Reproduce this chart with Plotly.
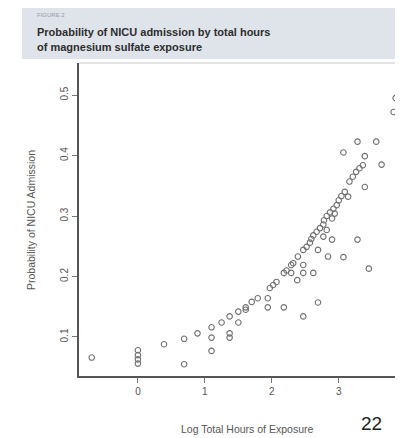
import plotly.graph_objects as go

# Data (log total hours, probability of NICU admission)
log_hours = [
    -0.69, 0.0, 0.0, 0.0, 0.0, 0.39, 0.69, 0.69, 0.89,
    1.10, 1.10, 1.10, 1.25, 1.37, 1.37, 1.37, 1.50, 1.50,
    1.61, 1.61, 1.70, 1.79, 1.94, 1.94, 1.97, 2.02, 2.07,
    2.18, 2.18, 2.22, 2.29, 2.29, 2.32, 2.38, 2.39,
    2.47, 2.47, 2.47, 2.47, 2.52, 2.57, 2.59, 2.62, 2.62,
    2.67, 2.69, 2.69, 2.72, 2.77, 2.77, 2.78, 2.82, 2.82,
    2.84, 2.87, 2.90, 2.90, 2.92, 2.94, 2.97, 3.00, 3.04,
    3.07, 3.07, 3.09, 3.14, 3.16, 3.21, 3.26, 3.28, 3.28,
    3.31, 3.36, 3.39, 3.39, 3.45, 3.56, 3.64, 3.82, 3.85,
]
prob_nicu = [
    0.066, 0.078, 0.070, 0.063, 0.056, 0.088, 0.097, 0.055, 0.106,
    0.116, 0.099, 0.077, 0.124, 0.134, 0.106, 0.099, 0.142, 0.124,
    0.149, 0.145, 0.158, 0.164, 0.164, 0.149, 0.181, 0.186, 0.191,
    0.206, 0.149, 0.210, 0.219, 0.206, 0.222, 0.194, 0.233,
    0.244, 0.219, 0.206, 0.134, 0.249, 0.256, 0.262, 0.268, 0.206,
    0.274, 0.244, 0.157, 0.280, 0.286, 0.266, 0.293, 0.300, 0.277,
    0.233, 0.306, 0.296, 0.261, 0.312, 0.304, 0.318, 0.326, 0.333,
    0.232, 0.405, 0.340, 0.332, 0.357, 0.365, 0.373, 0.423, 0.261,
    0.379, 0.384, 0.399, 0.348, 0.213, 0.423, 0.385, 0.472, 0.495,
]

x_ticks = [0, 1, 2, 3, 4]
y_ticks = [0.1, 0.2, 0.3, 0.4, 0.5]

# The page body adds an 8px offset; the figure is sized to fit the 403x438 window.
FIG_W, FIG_H = 395, 430
ML, MR, MT, MB = 71, 0, 55, 62
plot_w = FIG_W - ML - MR
plot_h = FIG_H - MT - MB


def px_x(px):
    # px in window coordinates -> paper coordinate
    return (px - 8 - ML) / plot_w


def px_y(py):
    return (FIG_H - MB - (py - 8)) / plot_h


fig = go.Figure()
fig.add_trace(go.Scatter(
    x=log_hours, y=prob_nicu, mode="markers",
    marker=dict(symbol="circle-open", size=5.5, color="#707070",
                line=dict(width=1.1, color="#707070")),
    showlegend=False, hoverinfo="skip", cliponaxis=False,
))

axis_font = dict(family="Liberation Sans, Arial, sans-serif", size=10, color="#555")

fig.update_layout(
    width=FIG_W, height=FIG_H,
    margin=dict(l=ML, r=MR, t=MT, b=MB),
    paper_bgcolor="white", plot_bgcolor="white",
    xaxis=dict(
        range=[-0.88, 3.96], tickvals=x_ticks, ticktext=[str(v) for v in x_ticks],
        showgrid=False, zeroline=False, showline=True, linecolor="#555", linewidth=1.5,
        ticks="outside", ticklen=5, tickcolor="#777", tickfont=axis_font,
    ),
    yaxis=dict(
        range=[0.0355, 0.553], tickvals=y_ticks, ticktext=[f"{v:.1f}" for v in y_ticks],
        showgrid=False, zeroline=False, showline=True, linecolor="#555", linewidth=1.5,
        ticks="outside", ticklen=5, tickcolor="#777", tickfont=axis_font, tickangle=-90,
    ),
)

fig.layout.shapes = [
    dict(type="rect", xref="paper", yref="paper",
         x0=px_x(22), x1=px_x(404), y0=px_y(59), y1=px_y(7),
         fillcolor="#dfe3ea", line=dict(width=0), layer="below"),
    dict(type="line", xref="paper", yref="paper",
         x0=0, x1=1, y0=1, y1=1, line=dict(color="#c8c8c8", width=1.2)),
]

title_font = dict(family="Liberation Sans Narrow, Arial Narrow, Liberation Sans, sans-serif",
                  size=11, color="#2e2e2e")
fig.add_annotation(xref="paper", yref="paper", x=px_x(35), y=px_y(15),
                   text="FIGURE 2", showarrow=False, xanchor="left", yanchor="middle",
                   font=dict(family="Liberation Sans, sans-serif", size=6, color="#9a9ab0"))
fig.add_annotation(xref="paper", yref="paper", x=px_x(35), y=px_y(32),
                   text="<b>Probability of NICU admission by total hours</b>", showarrow=False,
                   xanchor="left", yanchor="middle", font=title_font)
fig.add_annotation(xref="paper", yref="paper", x=px_x(35), y=px_y(47),
                   text="<b>of magnesium sulfate exposure</b>", showarrow=False,
                   xanchor="left", yanchor="middle", font=title_font)

# axis titles
fig.add_annotation(xref="paper", yref="paper", x=px_x(247), y=px_y(429),
                   text="Log Total Hours of Exposure", showarrow=False,
                   xanchor="center", yanchor="middle",
                   font=dict(family="Liberation Sans, Arial, sans-serif", size=10.5, color="#555"))
fig.add_annotation(xref="paper", yref="paper", x=px_x(31), y=px_y(220),
                   text="Probability of NICU Admission", showarrow=False, textangle=-90,
                   xanchor="center", yanchor="middle",
                   font=dict(family="Liberation Sans, Arial, sans-serif", size=10.5, color="#555"))
fig.add_annotation(xref="paper", yref="paper", x=px_x(371), y=px_y(423),
                   text="22", showarrow=False, xanchor="center", yanchor="middle",
                   font=dict(family="Liberation Sans, Arial, sans-serif", size=19, color="#222"))

fig.write_html("out.html")
